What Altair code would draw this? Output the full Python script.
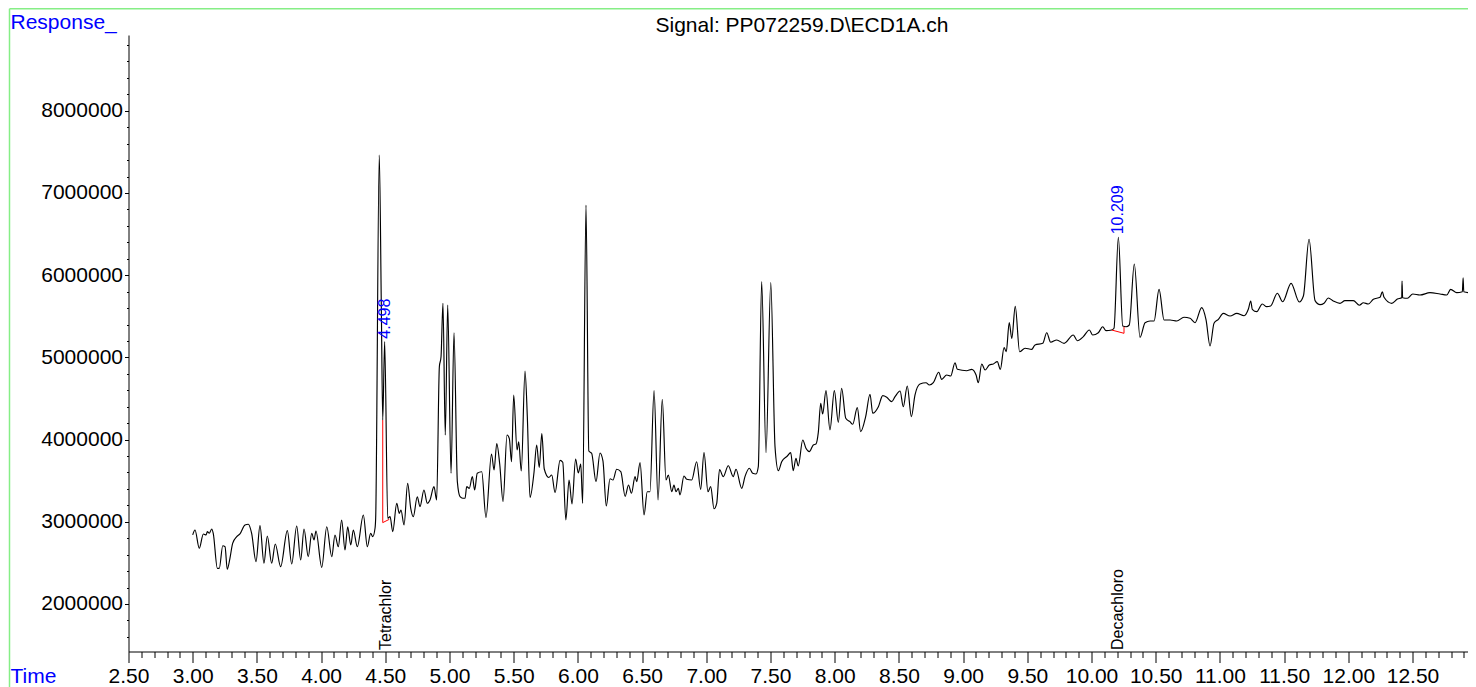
import altair as alt
import pandas as pd

# ---------------- data ----------------
times = [
    3.000, 3.018, 3.051, 3.083, 3.104, 3.114, 3.129, 3.148, 3.160, 3.192,
    3.207, 3.234, 3.252, 3.269, 3.290, 3.311, 3.343, 3.368, 3.407, 3.433,
    3.459, 3.493, 3.524, 3.555, 3.581, 3.615, 3.643, 3.685, 3.737, 3.771,
    3.810, 3.841, 3.867, 3.900, 3.927, 3.945, 3.960, 4.005, 4.044, 4.083,
    4.108, 4.134, 4.160, 4.186, 4.207, 4.231, 4.251, 4.282, 4.329, 4.360,
    4.386, 4.402, 4.420, 4.425, 4.453, 4.469, 4.480, 4.495, 4.519, 4.537,
    4.558, 4.589, 4.609, 4.622, 4.646, 4.674, 4.698, 4.718, 4.749, 4.770,
    4.801, 4.827, 4.848, 4.879, 4.900, 4.921, 4.934, 4.949, 4.967, 4.986,
    5.012, 5.035, 5.061, 5.082, 5.103, 5.121, 5.134, 5.154, 5.178, 5.196,
    5.216, 5.251, 5.284, 5.327, 5.347, 5.368, 5.391, 5.417, 5.448, 5.466,
    5.483, 5.500, 5.526, 5.539, 5.559, 5.588, 5.606, 5.627, 5.658, 5.679,
    5.699, 5.719, 5.738, 5.773, 5.796, 5.822, 5.861, 5.882, 5.906, 5.931,
    5.954, 5.982, 6.003, 6.022, 6.037, 6.063, 6.085, 6.107, 6.141, 6.172,
    6.195, 6.221, 6.250, 6.273, 6.302, 6.334, 6.368, 6.394, 6.417, 6.445,
    6.458, 6.484, 6.515, 6.540, 6.561, 6.593, 6.624, 6.657, 6.686, 6.704,
    6.731, 6.748, 6.764, 6.782, 6.795, 6.826, 6.847, 6.886, 6.925, 6.956,
    6.982, 7.013, 7.034, 7.060, 7.081, 7.103, 7.132, 7.171, 7.210, 7.231,
    7.276, 7.301, 7.335, 7.361, 7.387, 7.405, 7.431, 7.465, 7.502, 7.535,
    7.561, 7.587, 7.631, 7.657, 7.677, 7.698, 7.716, 7.751, 7.776, 7.802,
    7.833, 7.854, 7.872, 7.891, 7.906, 7.932, 7.963, 7.997, 8.028, 8.054,
    8.086, 8.119, 8.140, 8.176, 8.202, 8.241, 8.275, 8.296, 8.340, 8.374,
    8.405, 8.444, 8.470, 8.509, 8.534, 8.565, 8.597, 8.625, 8.664, 8.711,
    8.737, 8.768, 8.810, 8.833, 8.872, 8.903, 8.937, 8.955, 9.028, 9.067,
    9.101, 9.118, 9.145, 9.171, 9.204, 9.235, 9.266, 9.290, 9.319, 9.336,
    9.359, 9.379, 9.406, 9.440, 9.482, 9.534, 9.560, 9.620, 9.651, 9.682,
    9.729, 9.786, 9.858, 9.889, 9.936, 9.983, 10.009, 10.053, 10.087, 10.113,
    10.157, 10.175, 10.209, 10.243, 10.269, 10.294, 10.333, 10.378, 10.417, 10.456,
    10.487, 10.526, 10.565, 10.612, 10.664, 10.720, 10.767, 10.806, 10.858, 10.892,
    10.923, 10.954, 10.988, 11.026, 11.079, 11.131, 11.188, 11.221, 11.240, 11.252,
    11.287, 11.330, 11.364, 11.395, 11.447, 11.489, 11.554, 11.618, 11.650, 11.694,
    11.741, 11.780, 11.811, 11.844, 11.883, 11.935, 11.974, 12.039, 12.086, 12.117,
    12.156, 12.195, 12.247, 12.265, 12.278, 12.338, 12.382, 12.416, 12.418, 12.423,
    12.460, 12.502, 12.558, 12.636, 12.714, 12.766, 12.797, 12.844, 12.888, 12.894,
    12.899, 12.948, 12.995,
]

responses = [
    2840000, 2900000, 2678000, 2852000, 2839000, 2880000, 2860000, 2912000, 2860000, 2434000,
    2434000, 2709000, 2697000, 2422000, 2556000, 2738000, 2819000, 2852000, 2961000, 2970000,
    2860000, 2515000, 2953000, 2495000, 2827000, 2495000, 2730000, 2454000, 2892000, 2487000,
    2949000, 2535000, 2912000, 2575000, 2860000, 2779000, 2888000, 2446000, 2940000, 2575000,
    2839000, 2697000, 3022000, 2657000, 2940000, 2718000, 2900000, 2697000, 3083000, 2697000,
    2860000, 2819000, 2921000, 3046000, 7462000, 5617000, 4238000, 5191000, 3043000, 3062000,
    2880000, 3225000, 3103000, 3144000, 2961000, 3468000, 3164000, 3062000, 3305000, 3184000,
    3387000, 3225000, 3265000, 3427000, 3265000, 4887000, 5008000, 5658000, 4056000, 5637000,
    3590000, 5300000, 3488000, 3305000, 3286000, 3286000, 3427000, 3407000, 3549000, 3387000,
    3590000, 3609000, 3052000, 3825000, 3630000, 3953000, 3703000, 3245000, 4056000, 4011000,
    3731000, 4542000, 3873000, 3974000, 3618000, 4834000, 4279000, 3296000, 3600000, 3934000,
    3661000, 4072000, 3642000, 3539000, 3569000, 3356000, 3748000, 3724000, 3022000, 3508000,
    3217000, 3764000, 3594000, 3703000, 3225000, 6854000, 3861000, 3833000, 3488000, 3837000,
    3740000, 3192000, 3524000, 3508000, 3639000, 3609000, 3310000, 3448000, 3347000, 3549000,
    3488000, 3719000, 3083000, 3366000, 3366000, 4595000, 3265000, 4490000, 3508000, 3569000,
    3366000, 3448000, 3366000, 3407000, 3326000, 3557000, 3517000, 3508000, 3731000, 3395000,
    3843000, 3366000, 3427000, 3159000, 3225000, 3636000, 3549000, 3682000, 3549000, 3639000,
    3407000, 3549000, 3651000, 3590000, 3581000, 3670000, 5921000, 3841000, 5909000, 3914000,
    3622000, 3731000, 3800000, 3841000, 3622000, 3772000, 3679000, 3995000, 3894000, 3853000,
    3934000, 3946000, 4084000, 4442000, 4311000, 4595000, 4117000, 4595000, 4210000, 4624000,
    4259000, 4218000, 4186000, 4388000, 4096000, 4279000, 4551000, 4320000, 4400000, 4534000,
    4515000, 4461000, 4522000, 4591000, 4400000, 4652000, 4279000, 4542000, 4676000, 4692000,
    4664000, 4692000, 4819000, 4733000, 4786000, 4774000, 4935000, 4855000, 4838000, 4855000,
    4786000, 4692000, 4920000, 4847000, 4907000, 4920000, 4948000, 4855000, 5120000, 5069000,
    5424000, 5232000, 5620000, 5069000, 5111000, 5098000, 5151000, 5171000, 5300000, 5184000,
    5212000, 5171000, 5272000, 5203000, 5252000, 5333000, 5272000, 5300000, 5373000, 5325000,
    5333000, 5354000, 6461000, 5382000, 5373000, 5394000, 6136000, 5244000, 5422000, 5443000,
    5443000, 5828000, 5455000, 5455000, 5443000, 5488000, 5476000, 5422000, 5605000, 5455000,
    5139000, 5415000, 5463000, 5536000, 5504000, 5536000, 5507000, 5585000, 5686000, 5585000,
    5556000, 5650000, 5617000, 5625000, 5780000, 5677000, 5901000, 5674000, 5747000, 6437000,
    5690000, 5641000, 5658000, 5722000, 5686000, 5658000, 5690000, 5690000, 5634000, 5665000,
    5650000, 5707000, 5731000, 5799000, 5731000, 5658000, 5710000, 5726000, 5929000, 5726000,
    5719000, 5771000, 5759000, 5787000, 5771000, 5759000, 5828000, 5787000, 5799000, 5969000,
    5799000, 5787000, 5799000,
]

# integration baselines (red)
baseline_segment = [0, 0, 0, 1, 1, 1]
baseline_order = [0, 1, 2, 0, 1, 2]
baseline_times = [4.480, 4.480, 4.531, 10.157, 10.253, 10.253]
baseline_values = [4238000, 2990000, 3030000, 5333000, 5293000, 5373000]

# peak retention-time labels (blue)
peak_texts = ["4.498", "10.209"]
peak_times = [4.495, 10.209]
peak_values = [5191000, 6461000]

# compound names (black, along the time axis)
compound_names = ["Tetrachlor", "Decachloro"]
compound_times = [4.504, 10.209]

# axis ticks
x_major = [2.5, 3.0, 3.5, 4.0, 4.5, 5.0, 5.5, 6.0, 6.5, 7.0, 7.5, 8.0, 8.5,
           9.0, 9.5, 10.0, 10.5, 11.0, 11.5, 12.0, 12.5]
x_minor = [2.6, 2.7, 2.8, 2.9, 3.1, 3.2, 3.3, 3.4, 3.6, 3.7, 3.8, 3.9,
           4.1, 4.2, 4.3, 4.4, 4.6, 4.7, 4.8, 4.9, 5.1, 5.2, 5.3, 5.4,
           5.6, 5.7, 5.8, 5.9, 6.1, 6.2, 6.3, 6.4, 6.6, 6.7, 6.8, 6.9,
           7.1, 7.2, 7.3, 7.4, 7.6, 7.7, 7.8, 7.9, 8.1, 8.2, 8.3, 8.4,
           8.6, 8.7, 8.8, 8.9, 9.1, 9.2, 9.3, 9.4, 9.6, 9.7, 9.8, 9.9,
           10.1, 10.2, 10.3, 10.4, 10.6, 10.7, 10.8, 10.9, 11.1, 11.2, 11.3, 11.4,
           11.6, 11.7, 11.8, 11.9, 12.1, 12.2, 12.3, 12.4, 12.6, 12.7, 12.8, 12.9]
y_major = [2000000, 3000000, 4000000, 5000000, 6000000, 7000000, 8000000]
y_minor = [1600000, 1800000, 2200000, 2400000, 2600000, 2800000,
           3200000, 3400000, 3600000, 3800000, 4200000, 4400000, 4600000, 4800000,
           5200000, 5400000, 5600000, 5800000, 6200000, 6400000, 6600000, 6800000,
           7200000, 7400000, 7600000, 7800000, 8200000, 8400000, 8600000, 8800000]

title_text = "Signal: PP072259.D\\ECD1A.ch"
y_title = "Response_"
x_title = "Time"

# ---------------- chart ----------------
# whole SVG is kept at 1460 px wide so the page does not scale it down
W, H = 1339.5, 616.5
FONT = "Liberation Sans"
BLUE = "#0000ff"
GREEN = "#86ee86"

xscale = alt.Scale(domain=[2.5, 12.932], nice=False, zero=False)
yscale = alt.Scale(domain=[1422000, 8922000], nice=False, zero=False)

trace = pd.DataFrame({"time": times, "response": responses})
base_df = pd.DataFrame({"time": baseline_times, "response": baseline_values,
                        "segment": baseline_segment, "order": baseline_order})
peak_df = pd.DataFrame({"time": peak_times, "response": peak_values, "label": peak_texts})
comp_df = pd.DataFrame({"time": compound_times, "name": compound_names})

one = alt.Data(values=[{}])
border_top = alt.Chart(one).mark_rule(color=GREEN, strokeWidth=1.5).encode(
    x=alt.value(-119), x2=alt.value(W + 20), y=alt.value(-26.3)
)
border_left = alt.Chart(one).mark_rule(color=GREEN, strokeWidth=1.5).encode(
    x=alt.value(-119), y=alt.value(-26.3), y2=alt.value(H + 60)
)

line = alt.Chart(trace).mark_line(
    color="black", strokeWidth=1.15, interpolate="monotone"
).encode(
    x=alt.X("time:Q", scale=xscale, axis=alt.Axis(
        orient="bottom", values=x_major, format=".2f", grid=False,
        tickSize=11, tickColor="black", tickWidth=1,
        domainColor="black", domainWidth=1,
        labelColor="black", labelFont=FONT, labelFontSize=21, labelPadding=3,
        labelFlush=False, labelOverlap=False,
        title=x_title, titleFont=FONT, titleFontSize=21, titleFontWeight="normal",
        titleColor=BLUE, titleAngle=0, titleAlign="left", titleBaseline="alphabetic",
        titleX=-118.5, titleY=30.5)),
    y=alt.Y("response:Q", scale=yscale, axis=alt.Axis(
        orient="left", values=y_major, format="d", grid=False,
        tickSize=4, tickColor="black", tickWidth=1,
        domainColor="black", domainWidth=1,
        labelColor="black", labelFont=FONT, labelFontSize=21, labelPadding=2,
        labelFlush=False, labelOverlap=False,
        title=y_title, titleFont=FONT, titleFontSize=21, titleFontWeight="normal",
        titleColor=BLUE, titleAngle=0, titleAlign="left", titleBaseline="alphabetic",
        titleX=-118.5, titleY=-6.7))
)

red = alt.Chart(base_df).mark_line(color="red", strokeWidth=1).encode(
    x=alt.X("time:Q", scale=xscale, axis=alt.Axis(
        orient="bottom", values=x_minor, labels=False, domain=False, grid=False,
        tickSize=6, tickColor="black", tickWidth=1, title="")),
    y=alt.Y("response:Q", scale=yscale, axis=alt.Axis(
        orient="left", values=y_minor, labels=False, domain=False, grid=False,
        tickSize=2, tickColor="black", tickWidth=1, title="")),
    detail="segment:N",
    order=alt.Order("order:Q"),
)

peak_labels = alt.Chart(peak_df).mark_text(
    angle=270, align="left", baseline="middle", dx=3,
    font=FONT, fontSize=16, color=BLUE
).encode(
    x=alt.X("time:Q", scale=xscale, axis=None),
    y=alt.Y("response:Q", scale=yscale, axis=None),
    text="label:N",
)

comp_labels = alt.Chart(comp_df).mark_text(
    angle=270, align="left", baseline="middle",
    font=FONT, fontSize=16, color="black"
).encode(
    x=alt.X("time:Q", scale=xscale, axis=None),
    y=alt.value(H - 1.5),
    text="name:N",
)

title = alt.Chart(alt.Data(values=[{"t": title_text}])).mark_text(
    align="center", baseline="alphabetic", font=FONT, fontSize=21, color="black"
).encode(
    x=alt.value(673.5), y=alt.value(-3.3), text="t:N"
)

chart = alt.layer(border_top, border_left, line, red, peak_labels, comp_labels, title).resolve_axis(
    x="independent", y="independent"
).properties(
    width=W, height=H, autosize="none",
    padding={"left": 120.5, "top": 27, "right": 0, "bottom": 35.5},
    background="white",
).configure_view(stroke="transparent")

chart.save("out.html", embed_options={"renderer": "svg", "actions": False})
